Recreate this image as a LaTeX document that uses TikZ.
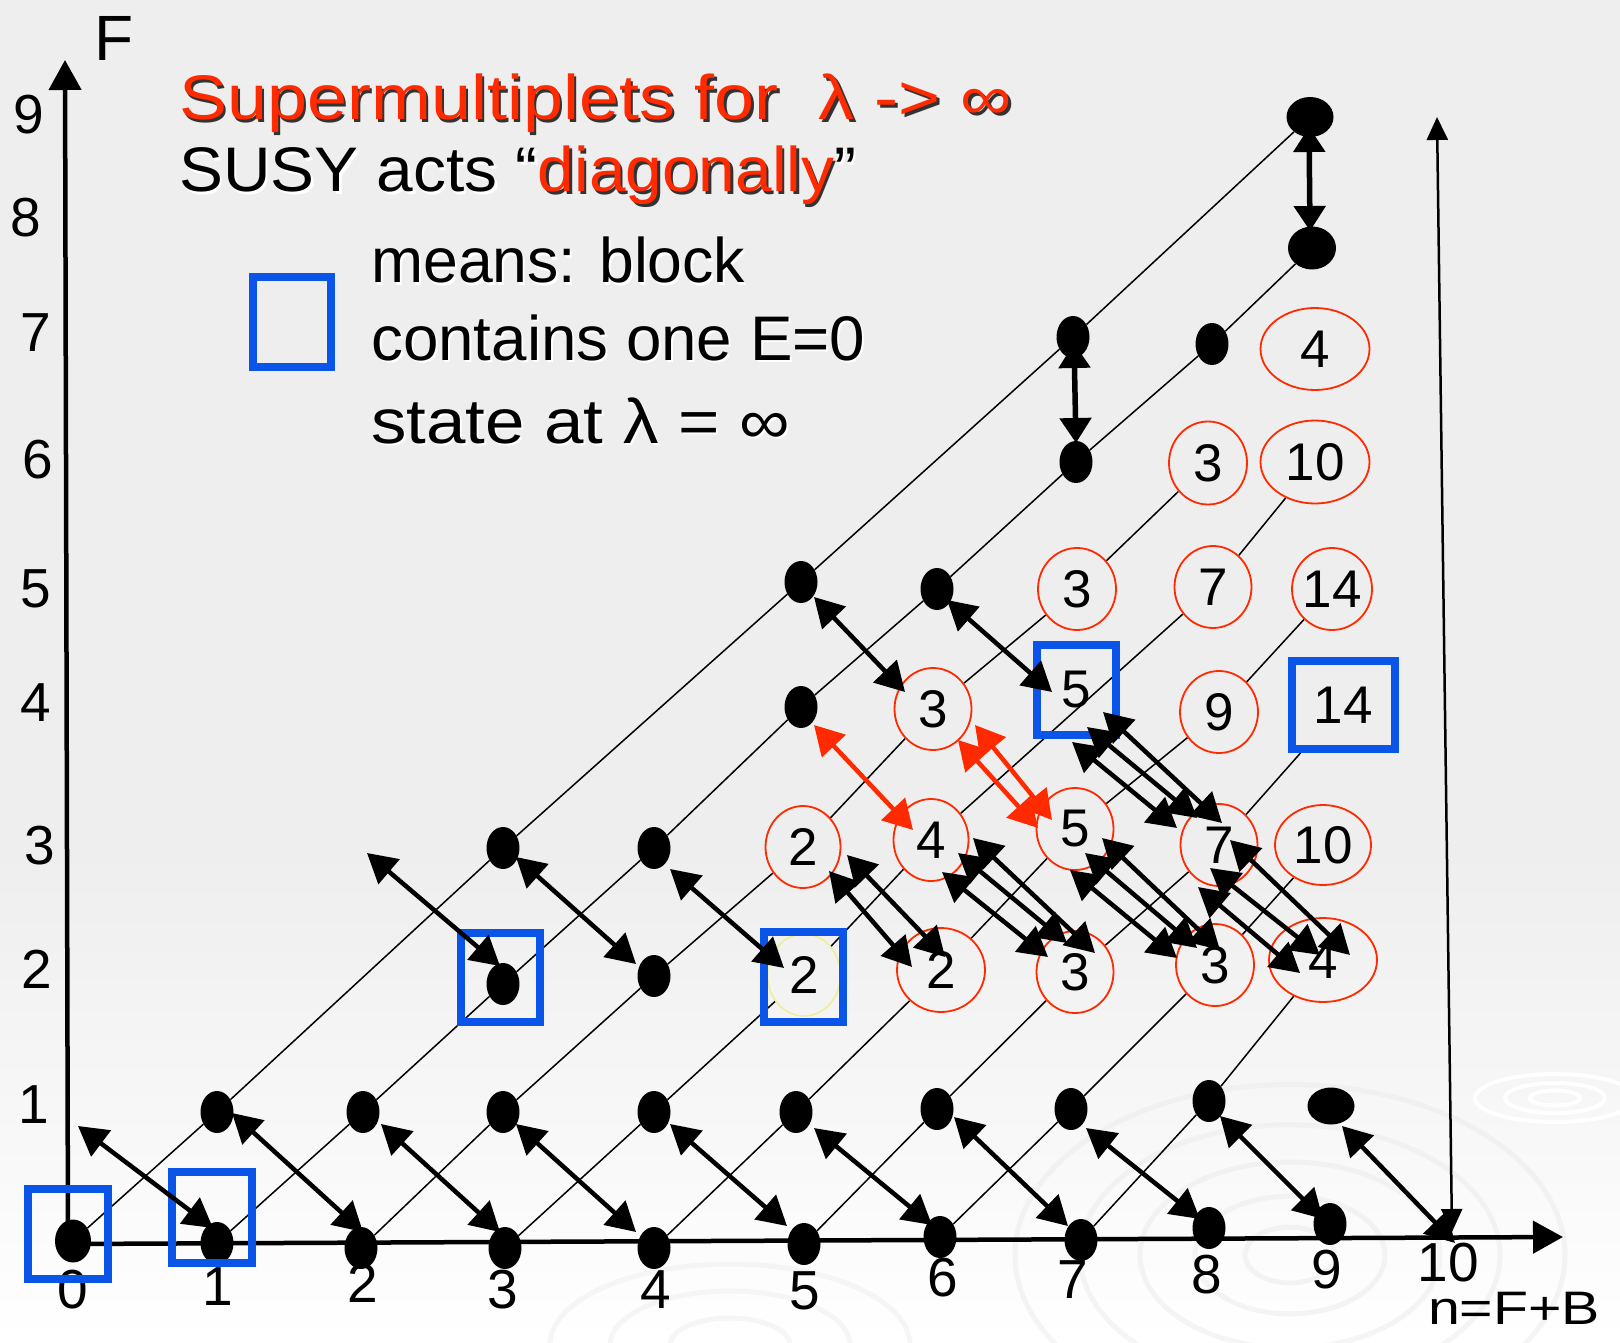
\documentclass[tikz,border=0pt]{standalone}
\usepackage{fontspec}
\setmainfont{Liberation Sans}
\usetikzlibrary{shapes.geometric,arrows.meta,calc}
\definecolor{sred}{HTML}{FF2A00}
\definecolor{sblue}{HTML}{0A55E8}
\definecolor{bggray}{HTML}{EEEEEE}
\definecolor{syell}{HTML}{EFEF90}
\definecolor{ripple}{HTML}{E9E9E9}
\pgfdeclarelayer{bg}
\pgfdeclarelayer{lines}
\pgfsetlayers{bg,lines,main}
\newcommand\numf{\fontsize{53}{60}\selectfont}
\newcommand\axf{\fontsize{55}{60}\selectfont}
\newcommand\txf{\fontsize{63}{70}\selectfont}
\newcommand\nz[1]{\makebox[0pt]{#1}}
\begin{document}
\begin{tikzpicture}[x=1pt,y=-1pt,
  dot/.style={ellipse, fill=black, inner sep=0, minimum width=33pt, minimum height=42pt},
  num/.style={ellipse, draw=sred, line width=1.8pt, inner sep=0, minimum width=77pt, minimum height=82pt, font=\numf},
  bbox/.style={draw=sblue, line width=8pt, inner sep=0, minimum width=80pt, minimum height=90pt},
  diag/.style={line width=1.5pt},
  arr/.style={line width=4.5pt, {Triangle[length=29pt,width=32pt]}-{Triangle[length=29pt,width=32pt]}},
  varr/.style={line width=5.5pt, {Triangle[length=25pt,width=31pt]}-{Triangle[length=25pt,width=31pt]}},
  thinarr/.style={line width=2.5pt, {Triangle[length=23pt,width=21pt]}-{Triangle[length=23pt,width=21pt]}},
  axis/.style={line width=4.5pt, -{Triangle[length=30pt,width=32pt]}},
  axl/.style={font=\axf, inner sep=0},
  txt/.style={inner sep=0, anchor=base west},
  rip/.style={draw=ripple, line width=5pt}
]
\useasboundingbox (0,0) rectangle (1620,1343);
\begin{pgfonlayer}{bg}
\fill[bggray] (0,0) rectangle (1620,851);
\shade[top color=bggray, bottom color=white] (0,850) rectangle (1620,1343);
\foreach \r in {45,95,150,210,275}
  \draw[rip, opacity=0.45] (1290,1255) ellipse ({\r pt} and {0.62*\r pt});
\foreach \r in {25,50,80}
  \draw[rip, draw=white, line width=4pt] (1555,1098) ellipse ({\r pt} and {0.3*\r pt});
\foreach \r in {60,120,180}
  \draw[rip, opacity=0.4] (730,1345) ellipse ({\r pt} and {0.45*\r pt});
\end{pgfonlayer}

% axes
\coordinate (corig) at (68,1244);
\coordinate (cytip) at (65,60);
\coordinate (cxtip) at (1563,1237);
\draw[axis] (corig) -- (cytip);
\draw[axis] (corig) -- (cxtip);
\coordinate (cthinB) at (1452,1232);
\coordinate (cthinT) at (1437,117);
\draw[thinarr] (cthinB) -- (cthinT);

% axis labels
\node[axl] (lF) at (114,38) {\fontsize{64}{70}\selectfont F};
\node[axl] (ly9) at (29,115) {9};
\node[axl] (ly8) at (26,218) {8};
\node[axl] (ly7) at (36,333) {7};
\node[axl] (ly6) at (38,460) {6};
\node[axl] (ly5) at (36,589) {5};
\node[axl] (ly4) at (36,703) {4};
\node[axl] (ly3) at (40,846) {3};
\node[axl] (ly2) at (37,969) {2};
\node[axl] (ly1) at (34,1105) {1};
\node[axl] (lx0) at (73,1290) {0};
\node[axl] (lx1) at (218,1287) {1};
\node[axl] (lx2) at (363,1283) {2};
\node[axl] (lx3) at (503,1290) {3};
\node[axl] (lx4) at (656,1290) {4};
\node[axl] (lx5) at (805,1291) {5};
\node[axl] (lx6) at (943,1278) {6};
\node[axl] (lx7) at (1073,1280) {7};
\node[axl] (lx8) at (1207,1275) {8};
\node[axl] (lx9) at (1327,1270) {9};
\node[axl] (lx10) at (1448,1263) {10};
\node[inner sep=0, anchor=base] (lnFB) at (1514,1324) {\resizebox{172pt}{\height}{\fontsize{47}{50}\selectfont n=F+B}};

% texts
\node[txt] (titlesh) at (181.5,122.5) {\resizebox{833pt}{\height}{\txf\color{black!80}Supermultiplets for\ \ λ -> ∞}};
\node[txt] (title) at (179,120) {\resizebox{833pt}{\height}{\txf\color{sred}Supermultiplets for\ \ λ -> ∞}};
\node[txt] (susysh) at (181.5,194.5) {\resizebox{677pt}{\height}{\txf\textcolor{white}{SUSY acts “}\textcolor{black!80}{diagonally}\textcolor{white}{”}}};
\node[txt] (susy) at (179,192) {\resizebox{677pt}{\height}{\txf SUSY acts “\textcolor{sred}{diagonally}”}};
\node[txt, white] (leg1sh) at (373,285) {\resizebox{374pt}{\height}{\txf means: block}};
\node[txt] (leg1) at (371,283) {\resizebox{374pt}{\height}{\txf means: block}};
\node[txt, white] (leg2sh) at (373,362) {\resizebox{494pt}{\height}{\txf contains one E=0}};
\node[txt] (leg2) at (371,360) {\resizebox{494pt}{\height}{\txf contains one E=0}};
\node[txt, white] (leg3sh) at (373,445) {\resizebox{419pt}{\height}{\txf state at λ = ∞}};
\node[txt] (leg3) at (371,443) {\resizebox{419pt}{\height}{\txf state at λ = ∞}};
\node[bbox, minimum width=78pt] (legbox) at (292,322) {};

% dots
\node[dot, minimum width=36pt, minimum height=43pt] (n00) at (73,1241) {};
\node[dot] (n10) at (217,1243) {};
\node[dot] (n20) at (361,1248) {};
\node[dot] (n30) at (505,1248) {};
\node[dot] (n40) at (654,1248) {};
\node[dot] (n50) at (804,1244) {};
\node[dot] (n60) at (940,1237) {};
\node[dot] (n70) at (1081,1240) {};
\node[dot] (n80) at (1209,1228) {};
\node[dot] (n90) at (1330,1224) {};
\node[dot] (n11) at (217,1112) {};
\node[dot] (n21) at (363,1112) {};
\node[dot] (n31) at (503,1112) {};
\node[dot] (n41) at (654,1112) {};
\node[dot] (n51) at (796,1112) {};
\node[dot] (n61) at (937,1109) {};
\node[dot] (n71) at (1071,1109) {};
\node[dot] (n81) at (1209,1101) {};
\node[dot, minimum width=47pt, minimum height=37pt] (n91) at (1331,1106) {};
\node[dot] (n32) at (503,984) {};
\node[dot] (n42) at (654,976) {};
\node[dot] (n33) at (503,848) {};
\node[dot] (n43) at (654,848) {};
\node[dot] (n54) at (801,707) {};
\node[dot] (n55) at (801,582) {};
\node[dot] (n65) at (937,589) {};
\node[dot] (n76) at (1076,462) {};
\node[dot] (n77) at (1073,337) {};
\node[dot] (n87) at (1212,344) {};
\node[dot, minimum width=48pt, minimum height=43pt] (n98) at (1312,248) {};
\node[dot, minimum width=47pt, minimum height=40pt] (n99) at (1310,117) {};

% numbered states
\node[num, draw=syell, line width=1.5pt, minimum width=73pt] (n52) at (804,975) {\nz{2}};
\node[num, minimum width=88pt, minimum height=84pt] (n62) at (941,970) {\nz{2}};
\node[num] (n72) at (1075,972) {\nz{3}};
\node[num, minimum width=78pt] (n82) at (1215,965) {\nz{3}};
\node[num, minimum width=108pt, minimum height=84pt] (n92) at (1323,960) {\nz{4}};
\node[num, minimum width=75pt] (n53) at (803,847) {\nz{2}};
\node[num, minimum width=75pt] (n63) at (931,840) {\nz{4}};
\node[num] (n73) at (1075,829) {\nz{5}};
\node[num] (n83) at (1219,845) {\nz{7}};
\node[num, minimum width=96pt, minimum height=80pt] (n93) at (1323,845) {\nz{10}};
\node[num] (n64) at (933,709) {\nz{3}};
\node[bbox, minimum width=79pt, font=\numf] (n74) at (1076,690) {\nz{5}};
\node[num, minimum width=78pt] (n84) at (1219,712) {\nz{9}};
\node[bbox, minimum width=103pt, minimum height=88pt, font=\numf] (n94) at (1343,705) {\nz{14}};
\node[num, minimum width=78pt] (n75) at (1077,589) {\nz{3}};
\node[num] (n85) at (1213,587) {\nz{7}};
\node[num, minimum width=80pt] (n95) at (1332,589) {\nz{14}};
\node[num, minimum width=78pt, minimum height=83pt] (n86) at (1208,463) {\nz{3}};
\node[num, minimum width=109pt, minimum height=83pt] (n96) at (1315,462) {\nz{10}};
\node[num, minimum width=109pt] (n97) at (1315,349) {\nz{4}};

% blue boxes around states
\node[bbox] (b00) at (68,1234) {};
\node[bbox, minimum height=91pt] (b10) at (212,1217) {};
\node[bbox, minimum width=79pt, minimum height=89pt] (b32) at (500,977) {};
\node[bbox, minimum width=79pt] (b52) at (803,977) {};

% diagonal lines B = const
\begin{pgfonlayer}{lines}
\draw[diag] (n00) -- (n11) -- (n33) -- (n55) -- (n77) -- (n99);
\draw[diag] (n10) -- (n21) -- (n32) -- (n43) -- (n54) -- (n65) -- (n76) -- (n87) -- (n98);
\draw[diag] (n20) -- (n31) -- (n42) -- (n53) -- (n64) -- (n75) -- (n86);
\draw[diag] (n30) -- (n41) -- (n52) -- (n63) -- (n85) -- (n96);
\draw[diag] (n40) -- (n51) -- (n62) -- (n73) -- (n84) -- (n95);
\draw[diag] (n50) -- (n61) -- (n72) -- (n83) -- (n94);
\draw[diag] (n60) -- (n71) -- (n82) -- (n93);
\draw[diag] (n70) -- (n81) -- (n92);
\end{pgfonlayer}

% free ends
\coordinate (c01) at (78,1126);
\coordinate (c23) at (367,853);
\coordinate (c100) at (1455,1243);

% SUSY arrows, F=1 <-> F=0
\draw[arr] (c01) -- ($(n10)+(-4,-15)$);
\draw[arr] ($(n11)+(15,1)$) -- ($(n20)+(2,-16)$);
\draw[arr] ($(n21)+(18,12)$) -- ($(n30)+(-5,-16)$);
\draw[arr] ($(n31)+(13,12)$) -- ($(n40)+(-18,-16)$);
\draw[arr] ($(n41)+(16,12)$) -- ($(n50)+(-17,-18)$);
\draw[arr] ($(n51)+(18,16)$) -- ($(n60)+(-8,-12)$);
\draw[arr] ($(n61)+(17,8)$) -- ($(n70)+(-13,-14)$);
\draw[arr] ($(n71)+(15,19)$) -- ($(n80)+(-9,-9)$);
\draw[arr] ($(n81)+(11,15)$) -- ($(n90)+(-7,-5)$);
\draw[arr] ($(n91)+(11,20)$) -- (c100);

% F=3 <-> F=2
\draw[arr] (c23) -- ($(n32)+(-3,-18)$);
\draw[arr] ($(n33)+(13,9)$) -- ($(n42)+(-18,-12)$);
\draw[arr] ($(n43)+(16,21)$) -- ($(n52)+(-20,-7)$);
\draw[arr] ($(n53)+(26,24)$) -- ($(n62)+(-29,-3)$);
\draw[arr] ($(n53)+(44,8)$) -- ($(n62)+(4,-13)$);
\draw[arr] ($(n63)+(11,32)$) -- ($(n72)+(-27,-15)$);
\draw[arr] ($(n63)+(27,13)$) -- ($(n72)+(-8,-29)$);
\draw[arr] ($(n63)+(42,-2)$) -- ($(n72)+(20,-19)$);
\draw[arr] ($(n73)+(-5,41)$) -- ($(n82)+(-38,-7)$);
\draw[arr] ($(n73)+(10,24)$) -- ($(n82)+(-18,-17)$);
\draw[arr] ($(n73)+(27,9)$) -- ($(n82)+(5,-15)$);
\draw[arr] ($(n83)+(-21,42)$) -- ($(n92)+(-23,13)$);
\draw[arr] ($(n83)+(-9,23)$) -- ($(n92)+(-3,-5)$);
\draw[arr] ($(n83)+(11,-5)$) -- ($(n92)+(27,-5)$);

% F=4 <-> F=3
\draw[arr, sred] ($(n54)+(13,18)$) -- ($(n63)+(-18,-10)$);
\draw[arr, sred] ($(n64)+(25,31)$) -- ($(n73)+(-37,-1)$);
\draw[arr, sred] ($(n64)+(42,16)$) -- ($(n73)+(-23,-9)$);
\draw[arr] ($(n74)+(-4,52)$) -- ($(n83)+(-42,-17)$);
\draw[arr] ($(n74)+(11,37)$) -- ($(n83)+(-22,-27)$);
\draw[arr] ($(n74)+(27,22)$) -- ($(n83)+(3,-22)$);

% F=5 <-> F=4
\draw[arr] ($(n55)+(13,15)$) -- ($(n64)+(-28,-17)$);
\draw[arr] ($(n65)+(10,11)$) -- ($(n74)+(-24,2)$);

% vertical pairs
\draw[varr] ($(n77)+(1,6)$) -- ($(n76)+(0,-19)$);
\draw[varr] ($(n99)+(-1,10)$) -- ($(n98)+(-2,-17)$);
\end{tikzpicture}
\end{document}
